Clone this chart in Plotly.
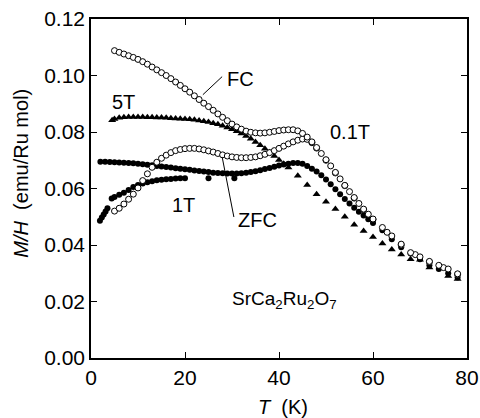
import plotly.graph_objects as go

# ---- data ----
fc01_T = [5,6,7,8,9,10,11,12,13,14,15,16,17,18,19,20,21,22,23,24,25,26,27,28,29,30,
          31,32,33,34,35,36,37,38,39,40,41,42,43,44,45,46,47,48,49,50,51,52,53,54,55,
          56,57,58,59,60,62,64,66,68,70,72,74,76,78]
fc01_M = [0.1088,0.1082,0.1076,0.1070,0.1064,0.1057,0.1049,0.1040,0.1030,0.1020,0.1010,
          0.1000,0.0989,0.0977,0.0965,0.0953,0.0941,0.0928,0.0915,0.0902,0.0890,0.0877,
          0.0864,0.0852,0.0840,0.0828,0.0818,0.0810,0.0803,0.0799,0.0797,0.0796,0.0797,
          0.0799,0.0802,0.0805,0.0807,0.0808,0.0808,0.0804,0.0795,0.0782,0.0765,0.0745,
          0.0724,0.0702,0.0680,0.0657,0.0634,0.0611,0.0589,0.0568,0.0547,0.0527,0.0509,
          0.0492,0.0462,0.0432,0.0403,0.0373,0.0358,0.0342,0.0328,0.0315,0.0298]

zfc01_T = [5,6,7,8,9,10,11,12,13,14,15,16,17,18,19,20,21,22,23,24,25,26,27,28,29,30,
           31,32,33,34,35,36,37,38,39,40,41,42,43,44,45,46,47,48,50,52,54,56,58,60,63,
           66,69,72,75,78]
zfc01_M = [0.0520,0.0530,0.0545,0.0562,0.0580,0.0602,0.0628,0.0652,0.0675,0.0693,0.0707,
           0.0718,0.0727,0.0734,0.0738,0.0741,0.0742,0.0742,0.0740,0.0737,0.0733,0.0729,
           0.0724,0.0719,0.0715,0.0712,0.0710,0.0709,0.0709,0.0710,0.0712,0.0716,0.0721,
           0.0727,0.0734,0.0742,0.0750,0.0758,0.0765,0.0771,0.0775,0.0774,0.0762,0.0743,
           0.0700,0.0655,0.0610,0.0566,0.0525,0.0490,0.0445,0.0400,0.0366,0.0340,0.0320,
           0.0296]

fc1_T = [2,3,4,5,6,7,8,9,10,11,12,13,14,15,16,17,18,19,20,21,22,23,24,25,26,27,28,29,
         30,31,32,33,34,35,36,37,38,39,40,41,42,43,44,45,46,47,48,49,50,51,52,53,54,55,
         56,57,58,59,60,62,64,66,68,70,72,74,76,78]
fc1_M = [0.0695,0.0695,0.0694,0.0693,0.0692,0.0691,0.0690,0.0689,0.0688,0.0686,0.0684,
         0.0682,0.0680,0.0678,0.0676,0.0674,0.0672,0.0670,0.0668,0.0666,0.0664,0.0662,
         0.0660,0.0658,0.0656,0.0655,0.0654,0.0653,0.0653,0.0653,0.0654,0.0656,0.0658,
         0.0661,0.0665,0.0669,0.0673,0.0677,0.0681,0.0685,0.0688,0.0690,0.0690,0.0688,
         0.0680,0.0670,0.0660,0.0647,0.0632,0.0615,0.0597,0.0580,0.0563,0.0547,0.0532,
         0.0518,0.0504,0.0491,0.0478,0.0452,0.0420,0.0392,0.0370,0.0350,0.0328,0.0315,
         0.0300,0.0285]

zfc1a_T = [1.9,2.3,2.7,3.1,3.5]
zfc1a_M = [0.0486,0.0497,0.0508,0.0519,0.0530]
zfc1b_T = [4.4,5,6,7,8,9,10,11,12,13,14,15,16,17,18,19,20,25,30.5]
zfc1b_M = [0.0565,0.0570,0.0578,0.0585,0.0595,0.0605,0.0612,0.0618,0.0622,0.0626,0.0629,
           0.0631,0.0633,0.0634,0.0635,0.0636,0.0636,0.0636,0.0636]

t5_T = [4.5,5,6,7,8,9,10,11,12,13,14,15,16,17,18,19,20,21,22,23,24,25,26,27,28,29,30,
        31,32,33,34,35,36,37,38,39,40,41,42,44,46,48,50,52,54,56,58,60,62,64,66,68,70,
        72,76,78]
t5_M = [0.0842,0.0846,0.0850,0.0852,0.0853,0.0853,0.0853,0.0853,0.0852,
        0.0852,0.0851,0.0851,0.0850,0.0849,0.0848,0.0847,0.0846,0.0845,0.0843,0.0841,
        0.0838,0.0835,0.0831,0.0827,0.0822,0.0816,0.0810,0.0803,0.0795,0.0786,0.0776,
        0.0765,0.0753,0.0741,0.0728,0.0715,0.0701,0.0688,0.0674,0.0645,0.0612,0.0580,
        0.0553,0.0527,0.0500,0.0472,0.0450,0.0428,0.0405,0.0384,0.0366,0.0350,0.0348,
        0.0320,0.0290,0.0280]

x_ticks = [0, 20, 40, 60, 80]
y_ticks = [0.00, 0.02, 0.04, 0.06, 0.08, 0.10, 0.12]

FONT = "Liberation Sans, Arial, Helvetica, sans-serif"

fig = go.Figure()

open_marker = dict(symbol="circle", size=6, color="white", line=dict(color="black", width=1))
fill_marker = dict(symbol="circle", size=6, color="black", line=dict(width=0))
tri_marker = dict(symbol="triangle-up", size=7, color="black", line=dict(width=0))

fig.add_trace(go.Scatter(x=t5_T, y=t5_M, mode="markers", marker=tri_marker))
fig.add_trace(go.Scatter(x=fc1_T, y=fc1_M, mode="markers", marker=fill_marker))
fig.add_trace(go.Scatter(x=zfc1a_T, y=zfc1a_M, mode="markers", marker=fill_marker))
fig.add_trace(go.Scatter(x=zfc1b_T, y=zfc1b_M, mode="markers", marker=fill_marker))
fig.add_trace(go.Scatter(x=zfc01_T, y=zfc01_M, mode="markers", marker=open_marker))
fig.add_trace(go.Scatter(x=fc01_T, y=fc01_M, mode="markers", marker=open_marker))

axis_common = dict(
    showline=True, linecolor="black", linewidth=1.6, mirror="ticks",
    ticks="inside", ticklen=6, tickwidth=1.3, tickcolor="black",
    showgrid=False, zeroline=False, automargin=False,
    tickfont=dict(family=FONT, size=21, color="black"),
)

fig.update_xaxes(range=[0, 80], tickvals=x_ticks, **axis_common)
fig.update_yaxes(range=[0, 0.12], tickvals=y_ticks, tickformat=".2f", **axis_common)

ann_font = dict(family=FONT, size=20, color="black")
annotations = [
    dict(x=31.9, y=0.0989, text="FC"),
    dict(x=7.0, y=0.0907, text="5T"),
    dict(x=55.1, y=0.0801, text="0.1T"),
    dict(x=19.6, y=0.0541, text="1T"),
    dict(x=35.5, y=0.0488, text="ZFC"),
    dict(x=41.1, y=0.0204, text="SrCa<sub>2</sub>Ru<sub>2</sub>O<sub>7</sub>",
         font=dict(family=FONT, size=19, color="black")),
]
for a in annotations:
    a.setdefault("font", ann_font)
    a.update(xref="x", yref="y", showarrow=False, xanchor="center", yanchor="middle")

annotations.append(dict(xref="paper", yref="paper", x=-0.185, y=0.545,
                        text="<i>M/H</i>  (emu/Ru mol)", textangle=-90, showarrow=False,
                        font=dict(family=FONT, size=20, color="black"),
                        xanchor="center", yanchor="middle"))
annotations.append(dict(xref="paper", yref="paper", x=0.51, y=-0.145,
                        text="<i>T</i>  (K)", showarrow=False,
                        font=dict(family=FONT, size=20, color="black"),
                        xanchor="center", yanchor="middle"))

fig.update_layout(
    width=480, height=418,
    margin=dict(l=91, r=13, t=19, b=60),
    paper_bgcolor="white", plot_bgcolor="white",
    showlegend=False,
    annotations=annotations,
    shapes=[
        dict(type="line", xref="x", yref="y", x0=23.8, y0=0.0932, x1=27.9, y1=0.0996,
             line=dict(color="black", width=1)),
        dict(type="line", xref="x", yref="y", x0=27.9, y0=0.0712, x1=30.4, y1=0.0499,
             line=dict(color="black", width=1)),
    ],
)

fig.write_html("out.html")
